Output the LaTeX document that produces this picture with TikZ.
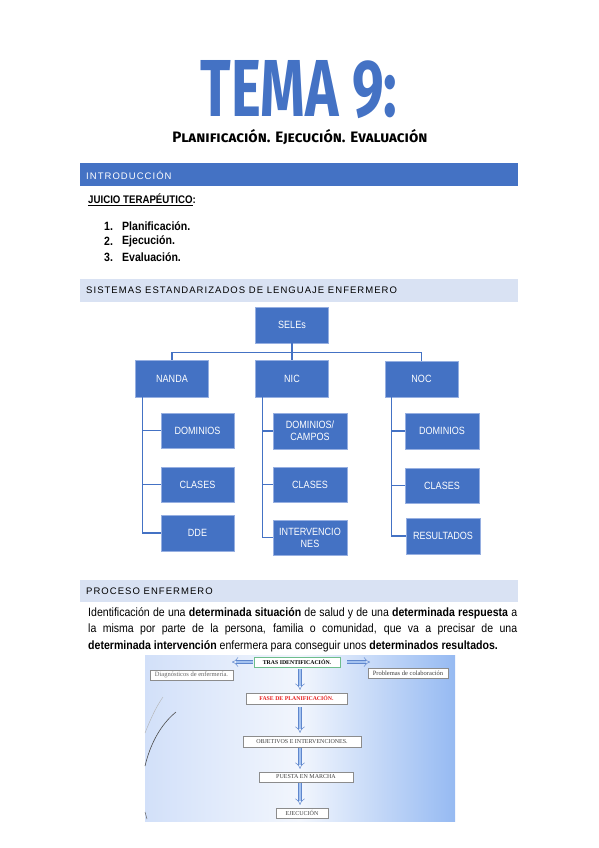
\documentclass[tikz,border=0pt]{standalone}
\usepackage{fontspec}
\usepackage{graphicx}
\setmainfont{Liberation Sans}
\newfontfamily\narrowfont[FakeStretch=0.88]{Liberation Sans}
\newfontfamily\treefont[FakeStretch=0.86]{Liberation Sans}
\newfontfamily\barfont[LetterSpace=11]{Liberation Sans}
\newfontfamily\shotfont{Liberation Serif}
\newfontfamily\titlefont{Fira Sans}
\usetikzlibrary{arrows.meta,positioning,calc}
\definecolor{temablue}{RGB}{68,114,196}
\definecolor{barlight}{RGB}{217,226,243}
\definecolor{boxedge}{RGB}{150,175,225}
\definecolor{shotleft}{RGB}{210,224,249}
\definecolor{shotmid}{RGB}{242,246,253}
\definecolor{shotright}{RGB}{150,186,242}
\definecolor{arrowfill}{RGB}{165,195,240}
\definecolor{arrowedge}{RGB}{95,135,205}
\definecolor{trasgreen}{RGB}{110,190,140}
\definecolor{fasered}{RGB}{230,30,30}

\begin{document}
\begin{tikzpicture}[x=1pt,y=-1pt,
  font=\narrowfont\fontsize{12}{16.5}\selectfont,
  darkbar/.style={fill=temablue,draw=none},
  lightbar/.style={fill=barlight,draw=none},
  bartext/.style={font=\barfont\fontsize{9.5}{11}\selectfont,anchor=west,inner sep=0pt},
  listtext/.style={anchor=west,inner sep=0pt,font=\narrowfont\bfseries\fontsize{12}{13}\selectfont},
  sele/.style={fill=temablue,draw=boxedge,line width=.8pt,text=white,align=center,
    font=\treefont\fontsize{10.5}{12}\selectfont,inner sep=1pt,minimum width=73pt,minimum height=36pt},
  link/.style={draw=temablue,line width=1.1pt},
  shotbox/.style={draw=black!45,fill=white,line width=.5pt,font=\shotfont\fontsize{6}{7}\selectfont,
    inner sep=1pt,minimum height=10pt},
  blockarrow/.style={draw=arrowedge,double=arrowfill,double distance=2.8pt,line width=.5pt,-{Implies}}]

\path[use as bounding box] (0,0) rectangle (599,848);

% title
\node[text=temablue,inner sep=0pt] (tema) at (299,90) {\resizebox{197pt}{56pt}{\titlefont\bfseries TEMA 9:}};
\node[inner sep=0pt] (sub) at (300,137) {\resizebox{255pt}{!}{\titlefont\bfseries\scshape Planificación. Ejecución. Evaluación}};

% introduccion
\fill[darkbar] (80,163) rectangle (518,186);
\node[bartext,text=white] (intro) at (86,175) {INTRODUCCIÓN};
\node[listtext,font=\narrowfont\bfseries\fontsize{11}{12}\selectfont] (juicio) at (88,200)
  {\underline{JUICIO TERAPÉUTICO}:};
\foreach \n/\t [count=\i] in {1/Planificación.,2/Ejecución.,3/Evaluación.}{
  \node[listtext] (num\i) at (104,210.5+15.5*\i) {\n.};
  \node[listtext] (item\i) at (122,210.5+15.5*\i) {\t};
}

% seles
\fill[lightbar] (80,279) rectangle (518,302);
\node[bartext] (seletitle) at (86,290.5) {SISTEMAS ESTANDARIZADOS DE LENGUAJE ENFERMERO};
\node[sele] (seles) at (292,325) {SELEs};
\node[sele,minimum height=37pt] (nanda) at (172,378.5) {NANDA};
\node[sele,minimum height=37pt] (nic) at (292,378.5) {NIC};
\node[sele] (noc) at (421.5,379) {NOC};
\node[sele,minimum height=35pt] (nandadom) at (197.5,430.5) {DOMINIOS};
\node[sele,minimum height=35pt] (nandacla) at (197.5,484.5) {CLASES};
\node[sele] (nandadde) at (197.5,533) {DDE};
\node[sele,minimum width=74pt] (nicdom) at (310,431) {DOMINIOS/\\CAMPOS};
\node[sele,minimum width=74pt,minimum height=35pt] (niccla) at (310,484.5) {CLASES};
\node[sele,minimum width=74pt,minimum height=35pt] (nicint) at (310,537.5) {INTERVENCIO\\NES};
\node[sele,minimum width=74pt] (nocdom) at (442,431) {DOMINIOS};
\node[sele,minimum width=74pt,minimum height=35pt] (noccla) at (442,485.5) {CLASES};
\node[sele,minimum width=74pt] (nocres) at (443,536) {RESULTADOS};
\draw[link] (seles.south) -- ++(0,9) -| (nanda.north);
\draw[link] (seles.south) -- ++(0,9) -| (noc.north);
\draw[link] (seles.south) -- (nic.north);
\foreach \p/\c in {nanda/nandadom,nanda/nandacla,nanda/nandadde,nic/nicdom,nic/niccla,nic/nicint,noc/nocdom,noc/noccla,noc/nocres}
  \draw[link] ([xshift=7pt]\p.south west) |- (\c.west);

% proceso
\fill[lightbar] (80,580) rectangle (518,602);
\node[bartext] (procesotitle) at (86,591) {PROCESO ENFERMERO};
\node[anchor=north west,text width=429pt,align=justify,inner sep=0pt] (para) at (88,607)
  {Identificación de una \textbf{determinada situación} de salud y de una \textbf{determinada respuesta} a\linebreak
   la misma por parte de la persona, familia o comunidad, que va a precisar de una\linebreak
   \textbf{determinada intervención} enfermera para conseguir unos \textbf{determinados resultados.}};

\shade[left color=shotleft,right color=shotright,middle color=shotmid] (145,655) rectangle (455,821);
\draw[black!70,line width=.6pt] (145,766) .. controls (150,745) and (160,725) .. (176,712);
\draw[black!30,line width=.4pt] (145,733) .. controls (151,718) and (156,707) .. (163,697);
\draw[black!60,line width=.5pt] (145,812) .. controls (146,815) .. (147,819);
\coordinate (axis) at (300,0);
\node[shotbox,draw=trasgreen,line width=.8pt,minimum width=86pt,font=\shotfont\bfseries\fontsize{5.8}{7}\selectfont] (tras) at (297,662) {TRAS IDENTIFICACIÓN.};
\node[shotbox,minimum width=83pt,text=black!60,font=\shotfont\fontsize{6.5}{7}\selectfont] (diag) at (191.5,675) {Diagnósticos de enfermería.};
\node[shotbox,minimum width=80pt,text=black!75,font=\shotfont\fontsize{6.5}{7}\selectfont] (prob) at (408,673) {Problemas de colaboración};
\node[shotbox,minimum width=101pt,minimum height=11pt,text=fasered,font=\shotfont\bfseries\fontsize{5.8}{7}\selectfont] (fase) at (296.5,698.5) {FASE DE PLANIFICACIÓN.};
\node[shotbox,minimum width=118pt,minimum height=11pt,text=black!75] (obj) at (302,741.5) {OBJETIVOS E INTERVENCIONES.};
\node[shotbox,minimum width=94pt,text=black!75] (puesta) at (306,777) {PUESTA EN MARCHA};
\node[shotbox,minimum width=52pt,text=black!75] (ejec) at (302,813) {EJECUCIÓN};
\coordinate (leftend) at (232,662);
\coordinate (rightend) at (370,662);
\draw[blockarrow] ([xshift=-1pt]tras.west) -- (leftend);
\draw[blockarrow] ([xshift=7pt]tras.east) -- (rightend);
\draw[blockarrow] ([yshift=-2pt]tras.south -| axis) -- ([yshift=3pt]fase.north -| axis);
\draw[blockarrow] ([yshift=-3pt]fase.south -| axis) -- ([yshift=3pt]obj.north -| axis);
\draw[blockarrow] ([yshift=-1pt]obj.south -| axis) -- ([yshift=3pt]puesta.north -| axis);
\draw[blockarrow] ([yshift=-1pt]puesta.south -| axis) -- ([yshift=3pt]ejec.north -| axis);

\end{tikzpicture}
\end{document}
